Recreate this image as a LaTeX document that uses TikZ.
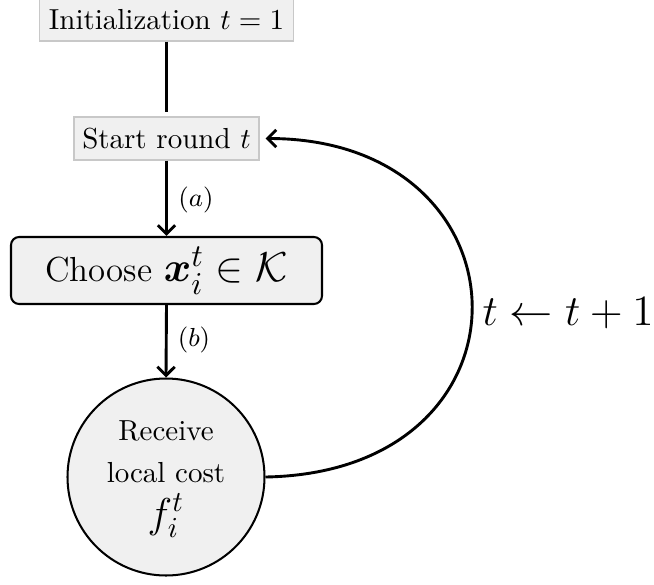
\documentclass[tikz,border=0pt]{standalone}
\usepackage{amsmath,amssymb,bm}
\usetikzlibrary{arrows.meta}
\definecolor{boxfill}{RGB}{240,240,240}
\definecolor{boxline}{RGB}{200,200,200}
\begin{document}
\begin{tikzpicture}[x=0.345pt,y=-0.345pt,
  lightbox/.style={draw=boxline,fill=boxfill,line width=0.5pt,inner sep=0pt,
    minimum width=#1*0.345pt},
  mainbox/.style={draw=black,fill=boxfill,line width=0.7pt,rounded corners=2.8pt,inner sep=0pt},
  roundnode/.style={circle,draw=black,fill=boxfill,line width=0.7pt,inner sep=0pt,
    minimum size=197*0.345pt},
  circtext/.style={anchor=base,inner sep=0pt},
  flow/.style={line width=1pt,-{Straight Barb[length=3pt,width=6pt,line width=1pt]}},
  steplabel/.style={font=\small}]
\useasboundingbox (0,0) rectangle (654,584);
\node[lightbox=254,minimum height=42*0.345pt] (init) at (166.5,20) {Initialization $t=1$};
\coordinate (lineend) at (166.5,112);
\node[lightbox=185,minimum height=43*0.345pt] (start) at (166.5,138.5) {Start round $t$};
\node[mainbox,minimum width=311*0.345pt,minimum height=67*0.345pt] (choose) at (166.5,270.5)
  {\large Choose {\fontsize{15}{18}\selectfont$\bm{x}_i^t \in \mathcal{K}$}};
\node[roundnode] (recv) at (166,477) {};
\node[circtext] (recva) at (166,440) {Receive};
\node[circtext] (recvb) at (166,482) {local cost};
\node[circtext] (recvc) at (166,527) {\Large$f_i^t$};
\node[steplabel] (la) at (196,200) {$(a)$};
\node[steplabel] (lb) at (194,340) {$(b)$};
\draw[line width=1pt] (init.south) -- (lineend);
\draw[flow] (start.south) -- (choose.north);
\draw[flow] (choose.south) -- (recv.north);
\draw[flow] (recv.east) .. controls +(280,-5) and +(270,0) .. ([xshift=2pt]start.east);
\node[anchor=west,font=\fontsize{15.5}{18}\selectfont,inner sep=0pt] (upd) at (482,313) {\scalebox{1.035}{$t \leftarrow t+1$}};
\end{tikzpicture}
\end{document}
